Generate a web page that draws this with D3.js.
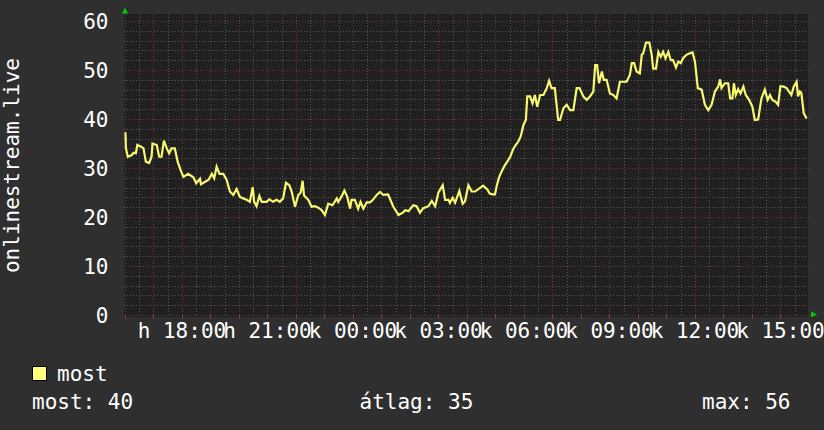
<!DOCTYPE html>
<html><head><meta charset="utf-8">
<script src="https://cdn.jsdelivr.net/npm/d3@7"></script>
<style>
html,body{margin:0;padding:0;background:#2f2f2f;}
svg{display:block;}
text{font-family:"DejaVu Sans Mono",monospace;font-size:21px;fill:#ffffff;}
</style></head><body>
<svg id="chart" width="824" height="430"></svg>
<script>
// ---- data ----
const startTime = "2024-01-15T15:58:00";
const endTime = "2024-01-16T15:58:00";
const minutes = [3,4,8,16,20,25,28,37,41,46,53,58,60,69,74,79,84,90,95,100,107,113,119,125,135,146,152,160,162,171,178,185,190,195,201,209,216,223,230,237,244,251,258,265,271,274,279,285,290,300,306,314,321,328,335,341,348,353,360,367,372,376,379,388,395,402,409,416,423,430,439,448,451,457,464,470,476,479,486,493,498,504,511,518,524,532,539,546,556,567,578,587,
592,599,609,616,623,630,641,648,655,662,671,676,683,686,692,697,706,713,718,725,732,739,749,756,765,770,776,781,785,790,795,802,807,813,820,825,830,835,841,846,849,855,860,865,870,876,883,890,895,900,907,914,918,925,932,939,946,953,959,967,974,981,988,992,996,1000,1006,1010,1016,1023,1030,1037,1044,1051,1058,1065,1069,1074,1079,1086,1090,1093,1099,1106,1111,1114,1120,1125,1130,1135,1140,1146,1151,1156,1162,1167,1172,1177,1184,1191,1197,1202,1208,1216,1223,1230,1237,1244,1251,1255,1258,1265,1272,1276,1281,1284,1288,1293,1298,1304,1309,1316,1323,1328,1335,1342,1349,1355,1360,1365,1372,1377,1382,1389,1395,1400,1405,1410,1416,1419,1423,1426,1431,1437];
const values = [37.3,34.0,32.3,32.6,33.1,33.0,34.7,34.3,34.0,31.3,31.0,32.3,35.0,34.7,32.3,32.3,35.6,34.0,33.0,34.0,34.0,31.3,29.6,28.2,28.8,28.1,26.9,27.8,26.7,27.2,27.6,28.8,27.9,30.3,28.8,28.8,27.6,25.2,24.5,25.7,24.1,23.8,23.5,23.1,26.1,23.1,22.2,24.3,23.1,23.1,23.6,23.1,23.5,23.1,23.8,27.0,26.5,25.2,22.1,24.5,25.0,27.4,24.4,23.5,22.1,22.2,21.9,21.4,20.4,22.7,22.4,23.8,23.1,24.0,25.4,24.1,21.7,23.5,23.5,21.7,23.1,21.7,23.0,23.0,23.5,24.5,25.1,24.5,24.6,22.1,20.4,20.9,
21.4,21.2,22.4,22.2,20.9,21.8,22.2,23.3,22.2,25.0,26.5,23.5,23.5,22.9,23.9,22.9,25.3,22.7,23.2,26.5,25.2,25.2,25.9,26.4,25.6,24.8,24.6,24.6,26.5,28.2,29.3,30.6,31.3,32.3,34.0,34.7,35.4,36.4,38.8,39.8,44.6,44.6,43.2,44.9,42.5,44.9,44.9,46.3,47.8,46.3,46.3,39.8,39.8,42.2,42.9,41.8,41.8,46.3,46.3,44.6,43.9,44.6,45.6,51.0,51.0,47.3,49.7,48.0,48.0,45.2,44.9,44.2,47.6,47.6,47.6,49.0,51.4,51.4,49.7,49.3,53.1,53.4,55.6,55.6,53.1,50.3,50.3,53.7,52.7,53.7,52.4,53.7,52.0,52.0,50.5,51.7,51.4,52.4,53.1,53.4,53.6,51.7,46.3,46.0,42.9,41.8,42.9,45.6,46.6,48.1,46.3,47.3,47.3,44.2,44.2,47.3,44.9,46.1,45.2,46.6,44.9,43.9,42.5,39.8,39.9,44.2,46.0,43.9,44.9,43.9,43.5,42.9,46.7,46.6,46.3,45.6,44.9,46.6,47.6,44.6,45.6,45.3,41.2,40.1];
const yTicks = [0,10,20,30,40,50,60];
const xTickLabels = ["h 18:00","h 21:00","k 00:00","k 03:00","k 06:00","k 09:00","k 12:00","k 15:00"];
const yTitle = "onlinestream.live";
const seriesName = "most";
const statLabels = ["most: 40","átlag: 35","max: 56"];

// ---- drawing ----
const svg = d3.select("#chart");
const t0 = new Date(startTime), t1 = new Date(endTime);
const x = d3.scaleTime().domain([t0, t1]).range([124, 808]);
const y = d3.scaleLinear().domain([0, 60]).range([315, 21]);
const yTop = y(61.4), yBot = y(-0.4);

svg.append("rect").attr("width",824).attr("height",430).attr("fill","#2f2f2f");
svg.append("rect").attr("x",124).attr("y",yTop).attr("width",684).attr("height",yBot-yTop).attr("fill","#202020");

const minorC = "#595959", majorC = "#703838";
const g = svg.append("g").attr("shape-rendering","crispEdges");
// horizontal grid
d3.range(0, 61, 2).forEach(v => {
  const major = v % 10 === 0;
  g.append("line")
    .attr("x1", major ? 122 : 124).attr("x2", major ? 810 : 808)
    .attr("y1", Math.round(y(v))+0.5).attr("y2", Math.round(y(v))+0.5)
    .attr("stroke", major ? majorC : minorC).attr("stroke-dasharray","1,2");
});
// vertical grid
d3.timeMinute.every(30).range(t0, t1).forEach(t => {
  const major = t.getMinutes() === 0;
  const px = Math.round(x(t)) + 0.5;
  g.append("line").attr("x1",px).attr("x2",px)
    .attr("y1", yTop).attr("y2", yBot)
    .attr("stroke", major ? majorC : minorC).attr("stroke-dasharray","1,2");
  if (major) g.append("line").attr("x1",px).attr("x2",px).attr("y1",yBot-3).attr("y2",yBot+2).attr("stroke","#8a3a3a");
});

// arrows
svg.append("path").attr("d","M122,13.5L125,7.5L128,13.5Z").attr("fill","#00cc00");
svg.append("path").attr("d","M811,311.5L817,314.5L811,317.5Z").attr("fill","#00cc00");

// y labels
svg.append("g").selectAll("text").data(yTicks).join("text")
  .attr("x",108.5).attr("y",d=>y(d)+7.5).attr("text-anchor","end").text(d=>d);

// x labels
const xTicks = d3.timeHour.every(3).range(t0, t1);
svg.append("g").selectAll("text").data(xTicks).join("text")
  .attr("x",d=>x(d)).attr("y",338).attr("text-anchor","middle")
  .text((d,i)=>xTickLabels[i]);

// y title
svg.append("text").attr("transform",`translate(19,${(yTop+yBot)/2}) rotate(-90)`)
  .attr("text-anchor","middle").text(yTitle);

// line
const data = minutes.map((m,i)=>({t:new Date(t0.getTime()+m*60000), v:values[i]}));
svg.append("path").datum(data)
  .attr("d", d3.line().x(d=>x(d.t)).y(d=>y(d.v)))
  .attr("fill","none").attr("stroke","#f8f870").attr("stroke-width",2.2).attr("stroke-linejoin","miter");

// legend
svg.append("rect").attr("x",32.5).attr("y",366.5).attr("width",14).attr("height",14)
  .attr("fill","#ffff80").attr("stroke","#000").attr("stroke-width",1);
svg.append("text").attr("x",57).attr("y",381).text(seriesName);
const statX = [32, 359.5, 702];
svg.append("g").selectAll("text").data(statLabels).join("text")
  .attr("x",(d,i)=>statX[i]).attr("y",409).text(d=>d);
</script>
</body></html>
